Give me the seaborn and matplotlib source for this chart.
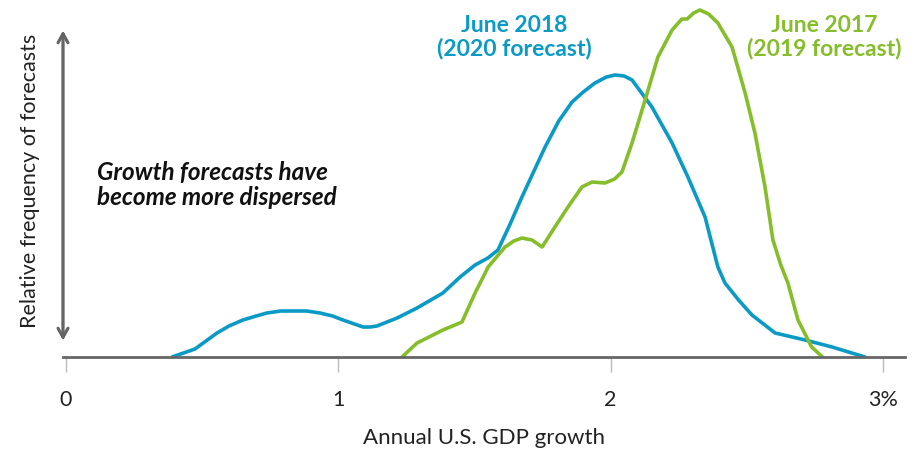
import numpy as np
import pandas as pd
import seaborn as sns
import matplotlib.pyplot as plt

# forecast distributions (x = GDP growth %, y = relative frequency, arbitrary units)
x_2018 = [0.391, 0.475, 0.556, 0.600, 0.651, 0.700, 0.739, 0.790, 0.835, 0.885, 0.934, 0.980,
          1.018, 1.060, 1.092, 1.118, 1.143, 1.217, 1.290, 1.385, 1.448, 1.503, 1.550, 1.587,
          1.630, 1.675, 1.760, 1.810, 1.859, 1.900, 1.943, 1.985, 2.017, 2.050, 2.079, 2.152,
          2.226, 2.284, 2.347, 2.394, 2.420, 2.470, 2.519, 2.604, 2.714, 2.813, 2.934]
y_2018 = [0, 8, 24, 31, 37, 41, 44, 46, 46, 46, 44, 41,
          37, 33, 30, 30, 31, 39, 49, 64, 80, 92, 99, 107,
          132, 160, 210, 236, 255, 265, 274, 280, 282, 281, 277, 250,
          214, 180, 140, 90, 74, 57, 42, 24, 17, 10, 0]

x_2017 = [1.235, 1.290, 1.385, 1.455, 1.503, 1.551, 1.613, 1.645, 1.675, 1.712, 1.749, 1.796,
          1.844, 1.895, 1.932, 1.980, 2.015, 2.042, 2.079, 2.127, 2.174, 2.226, 2.262, 2.281,
          2.305, 2.328, 2.360, 2.394, 2.446, 2.494, 2.530, 2.567, 2.596, 2.625, 2.651, 2.688,
          2.738, 2.778]
y_2017 = [0, 14, 27, 35, 64, 90, 110, 116, 119, 117, 110, 130,
          150, 170, 175, 174, 178, 185, 214, 257, 300, 327, 338, 338,
          344, 347, 343, 334, 310, 264, 224, 170, 117, 92, 74, 37,
          10, 0]

tick_vals = [0, 1, 2, 3]
tick_labels = ["0", "1", "2", "3%"]

BLUE = "#0b9ac6"
GREEN = "#86bd2b"
GREY = "#666666"

sns.set_theme(style="white")
plt.rcParams['font.family'] = ['Lato', 'DejaVu Sans']

W, H = 915, 451
fig = plt.figure(figsize=(W / 100, H / 100), dpi=100)
ax = fig.add_axes([63 / W, (H - 357) / H, 842 / W, 352 / H])

sns.lineplot(x=x_2018, y=y_2018, ax=ax, color=BLUE, linewidth=2.6, sort=False)
sns.lineplot(x=x_2017, y=y_2017, ax=ax, color=GREEN, linewidth=2.6, sort=False)
for ln in ax.lines:
    ln.set_solid_joinstyle('round')
    ln.set_solid_capstyle('round')

ax.set_xlim((63 - 65.5) / 272.5, (905 - 65.5) / 272.5)
ax.set_ylim(0, 352)

for s in ['top', 'right', 'left']:
    ax.spines[s].set_visible(False)
ax.spines['bottom'].set_color(GREY)
ax.spines['bottom'].set_linewidth(2)

ax.set_yticks([])
ax.set_xticks(tick_vals)
ax.set_xticklabels(tick_labels, fontsize=15.5, color="#222222")
ax.tick_params(axis='x', bottom=True, length=11, width=1, color="#bbbbbb", pad=13)
ax.set_xlabel("Annual U.S. GDP growth", fontsize=16, color="#222222", labelpad=13)
ax.set_ylabel("")

# vertical double arrow + label
fig.add_artist(plt.annotate("", xy=(63 / W, 1 - 343 / H), xytext=(63 / W, 1 - 28 / H),
                            xycoords='figure fraction', textcoords='figure fraction',
                            arrowprops=dict(arrowstyle="<->, head_length=0.55, head_width=0.3",
                                            color=GREY, lw=2)))
fig.text(30 / W, 1 - 181 / H, "Relative frequency of forecasts", rotation=90,
         ha='center', va='center', fontsize=15.5, color="#222222")

fig.text(97 / W, 1 - 185 / H, "Growth forecasts have\nbecome more dispersed",
         ha='left', va='center', fontsize=17.5, style='italic', fontweight='bold',
         color="#111111", linespacing=1.1)

fig.text(514 / W, 1 - 37 / H, "June 2018\n(2020 forecast)", ha='center', va='center',
         fontsize=16.5, fontweight='bold', color=BLUE, linespacing=1.1)
fig.text(824 / W, 1 - 37 / H, "June 2017\n(2019 forecast)", ha='center', va='center',
         fontsize=16.5, fontweight='bold', color=GREEN, linespacing=1.1)

fig.savefig("out.png", dpi=100)
